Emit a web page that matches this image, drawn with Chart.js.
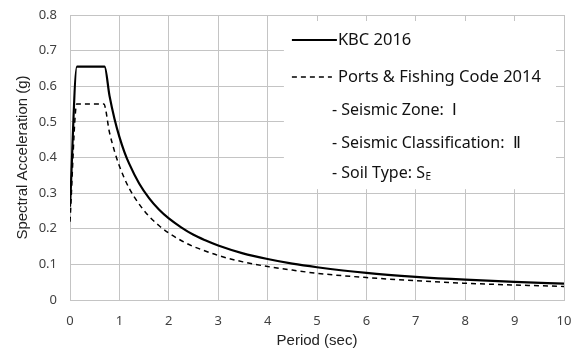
<!DOCTYPE html>
<html>
<head>
<meta charset="utf-8">
<script src="https://cdn.jsdelivr.net/npm/chart.js@4/dist/chart.umd.min.js"></script>
<style>
  html, body { margin: 0; padding: 0; background: #fff; }
  #wrap { width: 580px; height: 350px; }
</style>
</head>
<body>
<div id="wrap"><canvas id="c" width="580" height="350"></canvas></div>
<script>
// Design response spectra, period (sec) vs spectral acceleration (g)
const kbcPeriod = [0, 0.14, 0.70, 0.8, 0.9, 1.0, 1.1, 1.2, 1.4, 1.6, 1.8, 2.0, 2.25, 2.5, 2.75, 3.0, 3.5, 4.0, 4.5, 5.0, 6.0, 7.0, 8.0, 9.0, 10.0];
const kbcAccel  = [0.262, 0.655, 0.655, 0.573, 0.509, 0.458, 0.416, 0.382, 0.327, 0.286, 0.254, 0.229, 0.204, 0.183, 0.167, 0.153, 0.131, 0.115, 0.102, 0.092, 0.076, 0.065, 0.057, 0.051, 0.046];

const portPeriod = [0, 0.137, 0.684, 0.8, 0.9, 1.0, 1.1, 1.2, 1.4, 1.6, 1.8, 2.0, 2.25, 2.5, 2.75, 3.0, 3.5, 4.0, 4.5, 5.0, 6.0, 7.0, 8.0, 9.0, 10.0];
const portAccel  = [0.220, 0.550, 0.550, 0.470, 0.418, 0.376, 0.342, 0.313, 0.269, 0.235, 0.209, 0.188, 0.167, 0.150, 0.137, 0.125, 0.107, 0.094, 0.084, 0.075, 0.063, 0.054, 0.047, 0.042, 0.038];

const seriesNames = ['KBC 2016', 'Ports & Fishing Code 2014'];
const noteLines = ['- Seismic Zone:  Ⅰ', '- Seismic Classification:  Ⅱ', '- Soil Type: S'];
const soilSubscript = 'E';

const xTicks = [0, 1, 2, 3, 4, 5, 6, 7, 8, 9, 10];
const yTicks = [0, 0.1, 0.2, 0.3, 0.4, 0.5, 0.6, 0.7, 0.8];

const toPoints = (xs, ys) => xs.map((x, i) => ({ x: x, y: ys[i] }));

const FONT = '"Noto Sans", "Open Sans", sans-serif';

// Legend panel drawn inside the upper-right of the plot area
const legendPanel = {
  id: 'legendPanel',
  beforeDatasetsDraw(chart) {
    const { ctx, chartArea: a, scales } = chart;
    const left = a.left + (a.right - a.left) * 0.433;
    const top = a.top + 6;
    const right = a.right - 8;
    const bottom = scales.y.getPixelForValue(0.3) - 4;
    ctx.save();
    ctx.fillStyle = '#ffffff';
    ctx.fillRect(left, top, right - left, bottom - top);

    const sx = left + 8;
    ctx.strokeStyle = '#000';
    ctx.textBaseline = 'middle';
    ctx.fillStyle = '#111';
    ctx.font = '16.5px ' + FONT;

    // solid entry
    let y = a.top + 25;
    ctx.lineWidth = 2.2;
    ctx.setLineDash([]);
    ctx.beginPath(); ctx.moveTo(sx, y); ctx.lineTo(sx + 45, y); ctx.stroke();
    ctx.fillText(seriesNames[0], sx + 46, y);

    // dashed entry
    y = a.top + 62;
    ctx.lineWidth = 1.5;
    ctx.setLineDash([5, 4]);
    ctx.beginPath(); ctx.moveTo(sx, y); ctx.lineTo(sx + 40, y); ctx.stroke();
    ctx.setLineDash([]);
    ctx.fillText(seriesNames[1], sx + 46, y);

    // notes
    ctx.font = '16px ' + FONT;
    const nx = sx + 40;
    const ny = [a.top + 95, a.top + 128, a.top + 158];
    noteLines.forEach((t, i) => ctx.fillText(t, nx, ny[i]));
    const w = ctx.measureText(noteLines[2]).width;
    ctx.font = '10px ' + FONT;
    ctx.fillText(soilSubscript, nx + w + 0.5, ny[2] + 4);
    ctx.restore();
  }
};

new Chart(document.getElementById('c'), {
  type: 'line',
  data: {
    datasets: [
      {
        label: seriesNames[0],
        data: toPoints(kbcPeriod, kbcAccel),
        borderColor: '#000',
        borderWidth: 2.2,
        pointRadius: 0,
        fill: false,
        cubicInterpolationMode: 'monotone'
      },
      {
        label: seriesNames[1],
        data: toPoints(portPeriod, portAccel),
        borderColor: '#000',
        borderWidth: 1.5,
        borderDash: [5, 4],
        pointRadius: 0,
        fill: false,
        cubicInterpolationMode: 'monotone'
      }
    ]
  },
  options: {
    responsive: false,
    animation: false,
    events: [],
    layout: { padding: { top: 15, right: 16, left: 0, bottom: 0 } },
    plugins: { legend: { display: false }, tooltip: { enabled: false } },
    scales: {
      x: {
        type: 'linear',
        min: 0, max: 10,
        afterBuildTicks: s => { s.ticks = xTicks.map(v => ({ value: v })); },
        afterFit: s => { s.height = 50; s.paddingLeft = 0; s.paddingRight = 0; },
        grid: { color: '#c4c4c4', lineWidth: 1, drawTicks: false },
        border: { color: '#c4c4c4' },
        ticks: { color: '#404040', font: { family: FONT, size: 13 }, padding: 13, maxRotation: 0 },
        title: { display: true, text: 'Period (sec)', color: '#222', font: { family: '"Liberation Sans", Arial, sans-serif', size: 15 }, padding: { top: 2, bottom: 0 } }
      },
      y: {
        type: 'linear',
        min: 0, max: 0.8,
        afterBuildTicks: s => { s.ticks = yTicks.map(v => ({ value: v })); },
        afterFit: s => { s.width = 70; s.paddingTop = 0; s.paddingBottom = 0; },
        grid: { color: '#c4c4c4', lineWidth: 1, drawTicks: false },
        border: { color: '#c4c4c4' },
        ticks: { color: '#404040', font: { family: FONT, size: 13 }, padding: 13, callback: v => String(Math.round(v * 10) / 10) },
        title: { display: true, text: 'Spectral Acceleration (g)', color: '#222', font: { family: '"Liberation Sans", Arial, sans-serif', size: 15 }, padding: { top: 14, bottom: 0 } }
      }
    }
  },
  plugins: [legendPanel]
});
</script>
</body>
</html>
